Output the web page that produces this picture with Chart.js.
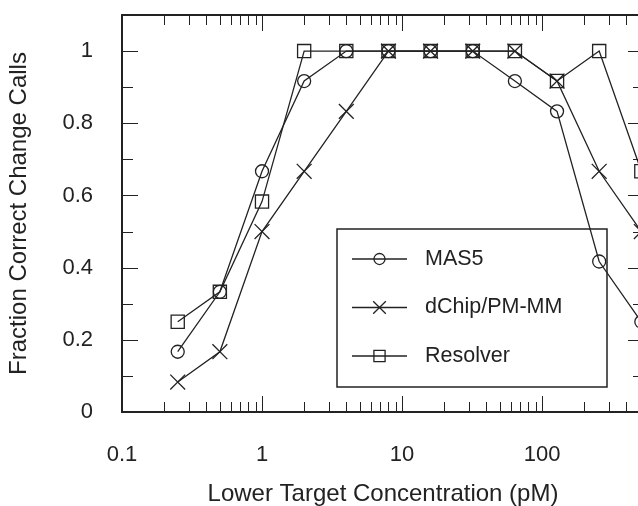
<!DOCTYPE html>
<html>
<head>
<meta charset="utf-8">
<title>Fraction Correct Change Calls</title>
<script src="https://cdn.jsdelivr.net/npm/chart.js@4/dist/chart.umd.min.js"></script>
<style>
  html, body { margin: 0; padding: 0; background: #fff; overflow: hidden; }
  #wrap { position: relative; width: 700px; height: 506px; }
  canvas { display: block; }
</style>
</head>
<body>
<div id="wrap"><canvas id="chart" width="700" height="506"></canvas></div>
<script>
// Lower target concentration (pM) and fraction of correct change calls per method
const concentrations = [0.25, 0.5, 1, 2, 4, 8, 16, 32, 64, 128, 256, 512];
const mas5     = [0.167, 0.333, 0.667, 0.917, 1, 1, 1, 1, 0.917, 0.833, 0.417, 0.25];
const dchip    = [0.083, 0.167, 0.5, 0.667, 0.833, 1, 1, 1, 1, 0.917, 0.667, 0.5];
const resolver = [0.25, 0.333, 0.583, 1, 1, 1, 1, 1, 1, 0.917, 1, 0.667];
const seriesNames = ['MAS5', 'dChip/PM-MM', 'Resolver'];

const xTickValues = [0.1, 1, 10, 100];
const xTickLabels = ['0.1', '1', '10', '100'];
const yTickValues = [0, 0.2, 0.4, 0.6, 0.8, 1];
const yTickLabels = ['0', '0.2', '0.4', '0.6', '0.8', '1'];

const INK = '#222';
const FONT = "'Liberation Sans', Arial, Helvetica, sans-serif";

function pairs(ys) {
  return concentrations.map((x, i) => ({ x: x, y: ys[i] }));
}

function series(label, ys, style, radius) {
  return {
    label: label,
    data: pairs(ys),
    borderColor: INK,
    borderWidth: 1.3,
    backgroundColor: 'rgba(0,0,0,0)',
    pointStyle: style,
    pointRadius: radius,
    pointHoverRadius: radius,
    pointBorderWidth: 1.3,
    pointBorderColor: INK,
    pointBackgroundColor: 'rgba(0,0,0,0)',
    tension: 0,
    fill: false
  };
}

// Boxed frame with inward tick marks on all four sides
const frameTicks = {
  id: 'frameTicks',
  afterDatasetsDraw(chart) {
    const { ctx, chartArea: a, scales } = chart;
    const x = scales.x, y = scales.y;
    ctx.save();
    ctx.strokeStyle = INK;
    ctx.lineWidth = 1;
    ctx.beginPath();
    for (let e = Math.floor(Math.log10(x.min)); Math.pow(10, e) <= x.max; e++) {
      for (let m = 1; m <= 9; m++) {
        const v = m * Math.pow(10, e);
        if (v < x.min * 0.999 || v > x.max) continue;
        const px = Math.round(x.getPixelForValue(v)) + 0.5;
        const len = m === 1 ? 16 : 10;
        ctx.moveTo(px, a.bottom); ctx.lineTo(px, a.bottom - len);
        ctx.moveTo(px, a.top); ctx.lineTo(px, a.top + len);
      }
    }
    for (let k = 0; k <= 11; k++) {
      const v = k / 10;
      if (v > y.max + 1e-9) continue;
      const py = Math.round(y.getPixelForValue(v)) + 0.5;
      const len = k % 2 === 0 ? 16 : 11;
      ctx.moveTo(a.left, py); ctx.lineTo(a.left + len, py);
      ctx.moveTo(a.right, py); ctx.lineTo(a.right - len, py);
    }
    ctx.stroke();
    ctx.lineWidth = 2;
    ctx.strokeRect(a.left, a.top, a.right - a.left, a.bottom - a.top);
    ctx.restore();
  }
};

// Legend drawn as a framed box inside the plot area
const boxLegend = {
  id: 'boxLegend',
  afterDatasetsDraw(chart, args, opts) {
    const ctx = chart.ctx;
    const b = opts.box;
    ctx.save();
    ctx.strokeStyle = INK;
    ctx.lineWidth = 1.5;
    ctx.strokeRect(b.left, b.top, b.right - b.left, b.bottom - b.top);
    ctx.font = opts.fontSize + 'px ' + FONT;
    ctx.textBaseline = 'middle';
    ctx.textAlign = 'left';
    chart.data.datasets.forEach((ds, i) => {
      const yy = b.top + opts.firstRow + i * opts.rowGap;
      const x0 = b.left + opts.lineStart, x1 = b.left + opts.lineEnd;
      ctx.strokeStyle = INK;
      ctx.lineWidth = 1.3;
      ctx.beginPath();
      ctx.moveTo(x0, yy); ctx.lineTo(x1, yy);
      ctx.stroke();
      ctx.fillStyle = 'rgba(0,0,0,0)';
      ctx.lineWidth = ds.pointBorderWidth;
      Chart.helpers.drawPoint(ctx, {
        pointStyle: ds.pointStyle,
        rotation: 0,
        radius: ds.pointRadius * opts.markerScale,
        borderWidth: ds.pointBorderWidth
      }, (x0 + x1) / 2, yy);
      ctx.fillStyle = INK;
      ctx.fillText(ds.label, b.left + opts.textStart, yy);
    });
    ctx.restore();
  }
};

function noEdgePadding(s) {
  s.paddingTop = 0; s.paddingBottom = 0; s.paddingLeft = 0; s.paddingRight = 0;
}

new Chart(document.getElementById('chart'), {
  type: 'line',
  data: {
    datasets: [
      series(seriesNames[0], mas5, 'circle', 6.5),
      series(seriesNames[1], dchip, 'crossRot', 10.5),
      series(seriesNames[2], resolver, 'rect', 9.3)
    ]
  },
  plugins: [frameTicks, boxLegend],
  options: {
    responsive: false,
    animation: false,
    devicePixelRatio: 1,
    layout: { padding: { top: 15, right: 56, left: 0, bottom: 0 } },
    plugins: {
      legend: { display: false },
      tooltip: { enabled: false },
      boxLegend: {
        box: { left: 337, top: 229, right: 607, bottom: 387 },
        firstRow: 30, rowGap: 48.5,
        lineStart: 15, lineEnd: 70, textStart: 88,
        fontSize: 21.5, markerScale: 0.85
      }
    },
    scales: {
      x: {
        type: 'logarithmic',
        position: 'bottom',
        min: 0.1,
        max: 535,
        bounds: 'data',
        afterBuildTicks: s => { s.ticks = xTickValues.map(v => ({ value: v })); },
        afterFit: s => { s.height = 94; noEdgePadding(s); },
        grid: { display: false, drawTicks: false },
        border: { display: false },
        ticks: {
          autoSkip: false,
          maxRotation: 0,
          padding: 30,
          color: INK,
          font: { family: FONT, size: 22 },
          callback: (v, i) => xTickLabels[i]
        },
        title: {
          display: true,
          text: 'Lower Target Concentration (pM)',
          color: INK,
          font: { family: FONT, size: 24 },
          padding: { top: 0, bottom: -3 }
        }
      },
      y: {
        type: 'linear',
        min: 0,
        max: 1.1,
        afterBuildTicks: s => { s.ticks = yTickValues.map(v => ({ value: v })); },
        afterFit: s => { s.width = 122; noEdgePadding(s); },
        grid: { display: false, drawTicks: false },
        border: { display: false },
        ticks: {
          autoSkip: false,
          padding: 29,
          color: INK,
          font: { family: FONT, size: 22 },
          callback: (v, i) => yTickLabels[i]
        },
        title: {
          display: true,
          text: 'Fraction Correct Change Calls',
          color: INK,
          font: { family: FONT, size: 24 },
          padding: { top: 5, bottom: 0 }
        }
      }
    }
  }
});
</script>
</body>
</html>
